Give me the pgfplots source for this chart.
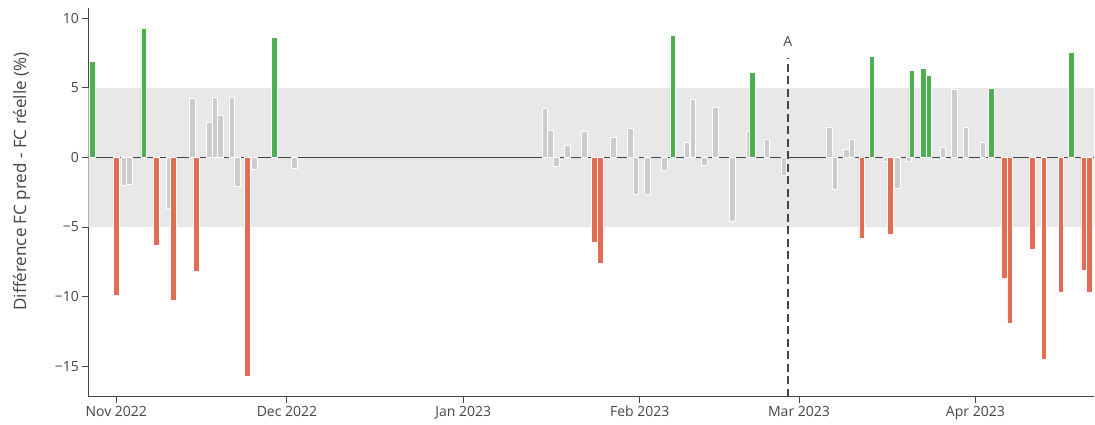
\documentclass[border=0pt]{standalone}
\usepackage{fontspec}
\setmainfont{Open Sans}
\usepackage{pgfplots}
\pgfplotsset{compat=1.18}

\definecolor{barGreen}{RGB}{78,174,82}
\definecolor{barRed}{RGB}{228,108,82}
\definecolor{barGray}{RGB}{204,204,204}
\definecolor{bandGray}{RGB}{232,232,232}
\definecolor{axisGray}{RGB}{68,68,68}
\definecolor{txtGray}{RGB}{68,68,68}

% day index: 0 = 1 Nov 2022
\begin{document}
\begin{tikzpicture}
\begin{axis}[
  scale only axis,
  width=1006pt, height=388.4pt,
  xmin=-4.92, xmax=171.9,
  ymin=-17.18, ymax=10.7,
  axis x line*=bottom, axis y line*=left,
  axis line style={draw=axisGray, line width=1pt},
  xtick={0,30,61,92,120,151},
  xticklabels={Nov 2022,Dec 2022,Jan 2023,Feb 2023,Mar 2023,Apr 2023},
  ytick={-15,-10,-5,0,5,10},
  yticklabels={−15,−10,−5,0,5,10},
  tick align=outside,
  major tick length=6pt,
  tick style={draw=axisGray, line width=1pt},
  ticklabel style={font=\fontsize{14}{16}\selectfont, text=txtGray},
  ylabel={Différence FC pred - FC réelle (\%)},
  ylabel style={font=\fontsize{17}{20}\selectfont, text=txtGray,
    at={(axis description cs:-0.0662,0.554)}, anchor=center},
  ybar, bar width=5.6pt, bar shift=0pt,
  every axis plot/.append style={draw=white, line width=0.5pt},
]
\coordinate (bl) at (rel axis cs:0,0);
\fill[bandGray] (axis cs:-4.92,-5) rectangle (axis cs:171.9,5);
\draw[axisGray, line width=1pt] (axis cs:-4.92,0) -- (axis cs:171.9,0);

% within +-5
\addplot[fill=barGray, bar shift=1.71pt] coordinates {
(1,-2.0) (2,-1.9) (9,-3.66) (13,4.26) (16,2.49) (17,4.35) (18,2.99) (20,4.35)
(21,-2.06) (24,-0.84) (31,-0.75) (75,3.54) (76,1.96) (77,-0.67) (79,0.84)
(82,1.84) (87,1.41) (90,2.08) (91,-2.63) (93,-2.63) (96,-0.96) (100,1.08)
(101,4.19) (103,-0.6) (105,3.61) (108,-4.62) (111,1.84) (114,1.32) (117,-1.32)
(125,2.18) (126,-2.3) (128,0.57) (129,1.32) (135,-0.26) (137,-2.25) (139,-0.26)
(145,0.69) (147,4.9) (149,2.13) (152,1.1)
};
% below -5
\addplot[fill=barRed, bar shift=0.2pt] coordinates {
(0,-9.9) (7,-6.32) (10,-10.26) (14,-8.2) (23,-15.7) (84,-6.08) (85,-7.6)
(131,-5.79) (136,-5.55) (156,-8.68) (157,-11.9) (161,-6.63) (163,-14.47)
(166,-9.7) (170,-8.13) (171,-9.7)
};
% above +5
\addplot[fill=barGreen, bar shift=-1.1pt] coordinates {
(-4,6.87) (5,9.28) (28,8.59) (98,8.8) (112,6.1) (133,7.27) (140,6.27)
(142,6.41) (143,5.9) (154,4.95) (168,7.58)
};

\draw[axisGray, line width=2pt, dash pattern=on 8pt off 4.5pt]
  (axis cs:118.05,-17.18) -- (axis cs:118.05,7.1);
\node[text=txtGray, font=\fontsize{14}{16}\selectfont]
  at (axis cs:118.05,8.3) {A};
\end{axis}
\pgfresetboundingbox
\path[use as bounding box] (bl) ++(-88.3pt,-28.3pt) rectangle ++(1095pt,425pt);
\end{tikzpicture}
\end{document}
